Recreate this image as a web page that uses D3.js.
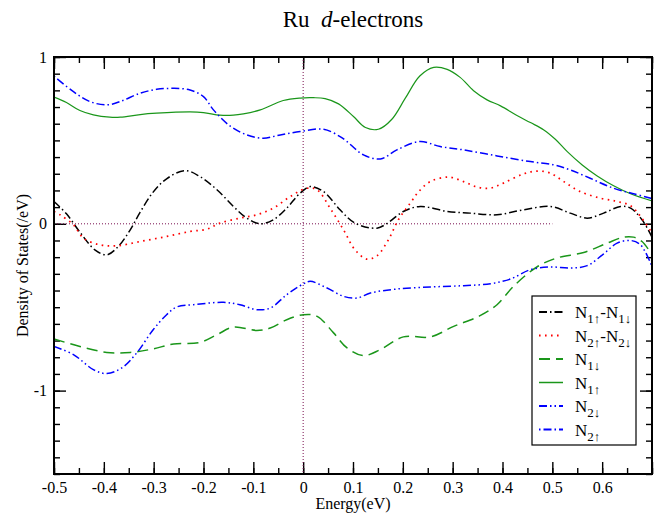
<!DOCTYPE html>
<html>
<head>
<meta charset="utf-8">
<script src="https://cdn.jsdelivr.net/npm/d3@7"></script>
<style>
  body { margin: 0; background: #fff; }
  svg text { font-family: "Liberation Serif", "Times New Roman", serif; }
</style>
</head>
<body>
<div id="dos"></div>
<script>
// values (energy in eV, DOS in states/eV)
const n1UpE = [-0.5, -0.475, -0.448, -0.421, -0.388, -0.367, -0.327, -0.294, -0.227, -0.2, -0.167, -0.14, -0.12, -0.086, -0.04, -0.006, 0.021, 0.044, 0.071, 0.101, 0.125, 0.151, 0.178, 0.205, 0.234, 0.262, 0.289, 0.315, 0.342, 0.369, 0.396, 0.429, 0.456, 0.483, 0.506, 0.53, 0.56, 0.59, 0.623, 0.657, 0.7];
const n1Up = [0.76, 0.727, 0.679, 0.653, 0.639, 0.639, 0.655, 0.663, 0.671, 0.667, 0.651, 0.651, 0.659, 0.683, 0.739, 0.754, 0.756, 0.75, 0.719, 0.643, 0.577, 0.567, 0.627, 0.753, 0.886, 0.938, 0.926, 0.878, 0.798, 0.743, 0.707, 0.649, 0.607, 0.563, 0.507, 0.433, 0.353, 0.287, 0.228, 0.18, 0.137];

const n2UpE = [-0.5, -0.461, -0.428, -0.394, -0.367, -0.327, -0.294, -0.26, -0.227, -0.2, -0.18, -0.147, -0.113, -0.08, -0.046, -0.006, 0.041, 0.074, 0.088, 0.121, 0.155, 0.188, 0.234, 0.275, 0.322, 0.389, 0.456, 0.503, 0.536, 0.576, 0.623, 0.663, 0.7];
const n2Up = [0.885, 0.792, 0.733, 0.713, 0.733, 0.783, 0.806, 0.812, 0.802, 0.762, 0.683, 0.587, 0.533, 0.513, 0.533, 0.553, 0.567, 0.523, 0.493, 0.413, 0.389, 0.443, 0.493, 0.463, 0.443, 0.407, 0.373, 0.353, 0.323, 0.273, 0.213, 0.18, 0.152];

const diff1E = [-0.5, -0.475, -0.448, -0.418, -0.394, -0.371, -0.347, -0.327, -0.301, -0.274, -0.237, -0.207, -0.173, -0.14, -0.113, -0.086, -0.06, -0.033, -0.006, 0.014, 0.041, 0.074, 0.104, 0.148, 0.171, 0.201, 0.235, 0.289, 0.335, 0.389, 0.442, 0.496, 0.536, 0.57, 0.603, 0.637, 0.657, 0.68, 0.7];
const diff1 = [0.133, 0.06, -0.05, -0.156, -0.186, -0.136, -0.036, 0.07, 0.19, 0.27, 0.319, 0.283, 0.204, 0.104, 0.034, 0.0, 0.024, 0.094, 0.184, 0.223, 0.193, 0.084, 0.004, -0.026, 0.008, 0.074, 0.104, 0.074, 0.064, 0.054, 0.084, 0.104, 0.064, 0.034, 0.064, 0.104, 0.094, 0.024, -0.08];

const diff2E = [-0.5, -0.488, -0.461, -0.441, -0.408, -0.374, -0.327, -0.274, -0.227, -0.193, -0.167, -0.127, -0.093, -0.06, -0.026, 0.007, 0.028, 0.054, 0.081, 0.104, 0.128, 0.148, 0.171, 0.191, 0.215, 0.232, 0.255, 0.292, 0.322, 0.349, 0.376, 0.402, 0.442, 0.469, 0.496, 0.523, 0.556, 0.596, 0.63, 0.657, 0.677, 0.7];
const diff2 = [0.074, 0.054, -0.006, -0.086, -0.126, -0.132, -0.106, -0.076, -0.046, -0.032, 0.004, 0.034, 0.054, 0.094, 0.163, 0.213, 0.204, 0.094, -0.036, -0.156, -0.212, -0.192, -0.096, 0.024, 0.124, 0.193, 0.253, 0.28, 0.253, 0.22, 0.214, 0.244, 0.299, 0.316, 0.304, 0.253, 0.193, 0.154, 0.134, 0.108, 0.044, -0.056];

const n1DnE = [-0.5, -0.448, -0.394, -0.347, -0.301, -0.26, -0.207, -0.173, -0.14, -0.093, -0.066, -0.033, 0.001, 0.028, 0.061, 0.088, 0.121, 0.155, 0.201, 0.255, 0.302, 0.355, 0.389, 0.422, 0.469, 0.509, 0.563, 0.61, 0.643, 0.663, 0.68, 0.7];
const n1Dn = [-0.691, -0.735, -0.771, -0.771, -0.75, -0.72, -0.711, -0.665, -0.619, -0.639, -0.625, -0.575, -0.545, -0.555, -0.654, -0.744, -0.79, -0.754, -0.678, -0.678, -0.615, -0.551, -0.485, -0.375, -0.259, -0.205, -0.172, -0.116, -0.08, -0.08, -0.106, -0.186];

const n2DnE = [-0.5, -0.461, -0.421, -0.394, -0.364, -0.334, -0.301, -0.274, -0.254, -0.22, -0.16, -0.127, -0.093, -0.066, -0.033, 0.001, 0.014, 0.048, 0.081, 0.108, 0.135, 0.188, 0.255, 0.322, 0.376, 0.416, 0.456, 0.496, 0.536, 0.57, 0.603, 0.63, 0.657, 0.677, 0.7];
const n2Dn = [-0.735, -0.784, -0.874, -0.898, -0.864, -0.774, -0.635, -0.545, -0.499, -0.485, -0.471, -0.485, -0.515, -0.505, -0.425, -0.359, -0.345, -0.385, -0.435, -0.445, -0.415, -0.391, -0.379, -0.371, -0.359, -0.331, -0.275, -0.259, -0.265, -0.251, -0.18, -0.116, -0.1, -0.126, -0.256];

const xTicks = [-0.5, -0.4, -0.3, -0.2, -0.1, 0, 0.1, 0.2, 0.3, 0.4, 0.5, 0.6, 0.7];
const yTicks = [-1, 0, 1];

// draw order follows the reference (diffs first, N2 up last)
const series = [
  { name: "diff1", e: diff1E, v: diff1, color: "#000000", dash: "8,3,1.5,3", width: 1.5, sub: ["1↑", "1↓"] },
  { name: "diff2", e: diff2E, v: diff2, color: "#ff0000", dash: "1.6,4.4", width: 1.7, sub: ["2↑", "2↓"] },
  { name: "n1Dn", e: n1DnE, v: n1Dn, color: "#1a961a", dash: "11,6", width: 1.5, sub: ["1↓"] },
  { name: "n1Up", e: n1UpE, v: n1Up, color: "#1a961a", dash: null, width: 1.2, sub: ["1↑"] },
  { name: "n2Dn", e: n2DnE, v: n2Dn, color: "#0000ff", dash: "8,3,1.5,3,1.5,3", width: 1.5, sub: ["2↓"] },
  { name: "n2Up", e: n2UpE, v: n2Up, color: "#0000ff", dash: "1.5,3,8,3", width: 1.5, sub: ["2↑"] },
];

class DosChart {
  constructor() {
    this.config = {
      parentElement: "#dos",
      width: 669,
      height: 517,
      margin: { top: 57, right: 17, bottom: 43, left: 54 },
    };
    this.initVis();
  }

  initVis() {
    const vis = this;
    vis.width = vis.config.width - vis.config.margin.left - vis.config.margin.right;
    vis.height = vis.config.height - vis.config.margin.top - vis.config.margin.bottom;

    vis.root = d3.select(vis.config.parentElement)
      .append("svg")
      .attr("width", vis.config.width)
      .attr("height", vis.config.height);

    vis.svg = vis.root.append("g")
      .attr("transform", `translate(${vis.config.margin.left},${vis.config.margin.top})`);

    vis.xScale = d3.scaleLinear().domain([-0.5, 0.7]).range([0, vis.width]);
    vis.yScale = d3.scaleLinear().domain([-1.5, 1]).range([vis.height, 0]);

    vis.svg.append("clipPath").attr("id", "plot-clip")
      .append("rect").attr("width", vis.width).attr("height", vis.height);

    vis.drawAxes();
    vis.updateVis();
  }

  drawAxes() {
    const vis = this;
    const fmt = (d) => (d === 0 ? "0" : String(+d.toFixed(1)));
    const xMinor = d3.range(-10, 15).map((i) => i * 0.05);
    const yMinor = d3.range(-15, 11).map((i) => i / 10);
    const xLabelFmt = (d) => (d > 0.65 ? "" : fmt(d));

    const addAxis = (axis, transform) => {
      const g = vis.svg.append("g").attr("class", "axis").attr("transform", transform).call(axis);
      g.attr("font-family", "'Liberation Serif', serif").attr("font-size", 16);
      g.select(".domain").remove();
      g.selectAll("line").attr("stroke", "#000").attr("stroke-width", 1.4);
      g.selectAll("text").attr("font-size", 16).attr("fill", "#000");
      return g;
    };

    // minor ticks
    addAxis(d3.axisBottom(vis.xScale).tickValues(xMinor).tickSize(-6).tickFormat(""), `translate(0,${vis.height})`);
    addAxis(d3.axisTop(vis.xScale).tickValues(xMinor).tickSize(-6).tickFormat(""), "translate(0,0)");
    addAxis(d3.axisLeft(vis.yScale).tickValues(yMinor).tickSize(-6).tickFormat(""), "translate(0,0)");
    addAxis(d3.axisRight(vis.yScale).tickValues(yMinor).tickSize(-6).tickFormat(""), `translate(${vis.width},0)`);

    // major ticks
    addAxis(d3.axisBottom(vis.xScale).tickValues(xTicks).tickSize(-12).tickPadding(8).tickFormat(xLabelFmt), `translate(0,${vis.height})`);
    addAxis(d3.axisTop(vis.xScale).tickValues(xTicks).tickSize(-12).tickFormat(""), "translate(0,0)");
    addAxis(d3.axisLeft(vis.yScale).tickValues(yTicks).tickSize(-12).tickPadding(7).tickFormat(fmt), "translate(0,0)");
    addAxis(d3.axisRight(vis.yScale).tickValues(yTicks).tickSize(-12).tickFormat(""), `translate(${vis.width},0)`);

    // reference lines at E = 0 and DOS = 0
    vis.svg.append("line")
      .attr("x1", vis.xScale(-0.5)).attr("x2", vis.xScale(0.5))
      .attr("y1", vis.yScale(0)).attr("y2", vis.yScale(0))
      .attr("stroke", "#7a1050").attr("stroke-width", 1).attr("stroke-dasharray", "1,2");
    vis.svg.append("line")
      .attr("x1", vis.xScale(0)).attr("x2", vis.xScale(0))
      .attr("y1", vis.yScale(1)).attr("y2", vis.yScale(-1.5))
      .attr("stroke", "#7a1050").attr("stroke-width", 1).attr("stroke-dasharray", "1,2");

    // titles
    const title = vis.root.append("text")
      .attr("x", vis.config.margin.left + vis.width / 2)
      .attr("y", 27)
      .attr("text-anchor", "middle")
      .attr("font-size", 23);
    title.append("tspan").text("Ru\u00a0\u00a0");
    title.append("tspan").attr("font-style", "italic").text("d");
    title.append("tspan").text("-electrons");

    vis.root.append("text")
      .attr("x", vis.config.margin.left + vis.width / 2)
      .attr("y", 509)
      .attr("text-anchor", "middle")
      .attr("font-size", 16)
      .text("Energy(eV)");

    vis.root.append("text")
      .attr("transform", `translate(28,${vis.config.margin.top + vis.height / 2}) rotate(-90)`)
      .attr("text-anchor", "middle")
      .attr("font-size", 16)
      .text("Density of States(/eV)");
  }

  updateVis() {
    const vis = this;
    const line = d3.line()
      .x((d) => vis.xScale(d[0]))
      .y((d) => vis.yScale(d[1]))
      .curve(d3.curveCatmullRom.alpha(0.5));

    vis.svg.append("g").attr("clip-path", "url(#plot-clip)")
      .selectAll("path")
      .data(series)
      .join("path")
      .attr("d", (s) => line(s.e.map((e, i) => [e, s.v[i]])))
      .attr("fill", "none")
      .attr("stroke", (s) => s.color)
      .attr("stroke-width", (s) => s.width)
      .attr("stroke-dasharray", (s) => s.dash);

    // frame
    vis.svg.append("rect")
      .attr("width", vis.width).attr("height", vis.height)
      .attr("fill", "none").attr("stroke", "#000").attr("stroke-width", 2);

    vis.drawLegend();
  }

  drawLegend() {
    const vis = this;
    const lg = vis.root.append("g").attr("transform", "translate(532,296)");
    lg.append("rect")
      .attr("width", 104).attr("height", 149)
      .attr("fill", "#fff").attr("stroke", "#000").attr("stroke-width", 1.2);

    const rows = lg.selectAll("g.row")
      .data(series)
      .join("g")
      .attr("class", "row")
      .attr("transform", (d, i) => `translate(0,${16 + i * 23.5})`);

    rows.append("line")
      .attr("x1", 7).attr("x2", 31)
      .attr("stroke", (d) => d.color)
      .attr("stroke-width", (d) => d.width + 0.3)
      .attr("stroke-dasharray", (d) => d.dash);

    rows.each(function (d) {
      const t = d3.select(this).append("text")
        .attr("x", 43).attr("y", 6)
        .attr("font-size", 17);
      d.sub.forEach((p, j) => {
        if (j > 0) t.append("tspan").attr("dy", -5).text("-");
        t.append("tspan").text("N");
        t.append("tspan").attr("dy", 5).attr("font-size", 13).text(p);
      });
    });
  }
}

const dosChart = new DosChart();
</script>
</body>
</html>
